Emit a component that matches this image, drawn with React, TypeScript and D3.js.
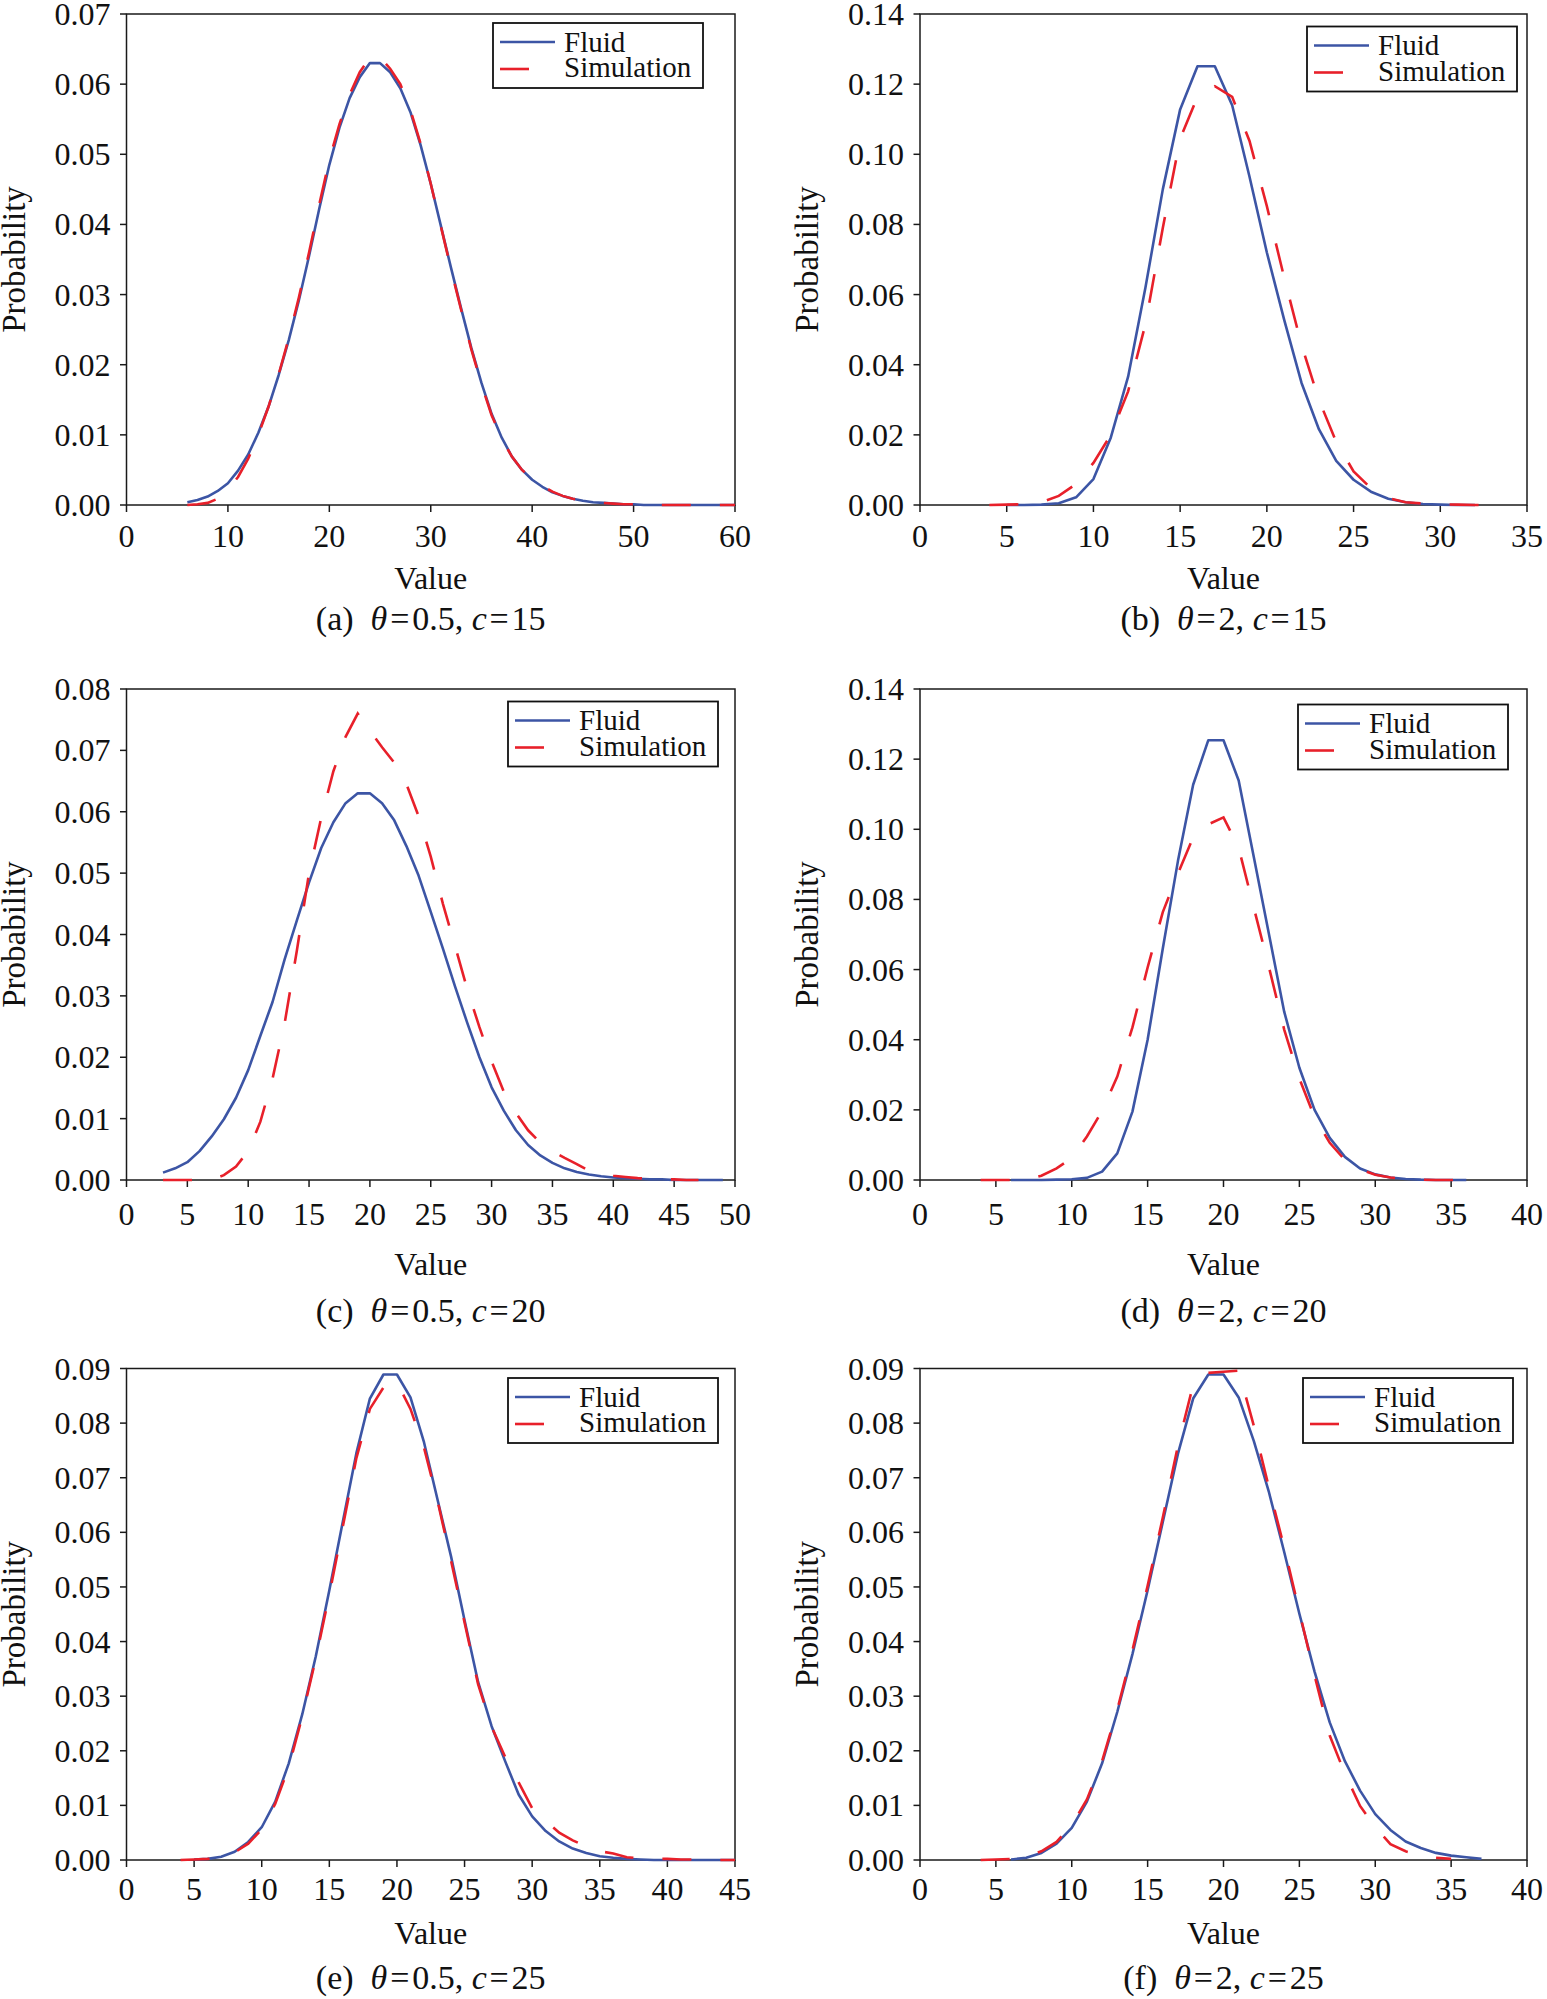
import React from 'react';
import * as d3 from 'd3';

// ---------- data (probability at integer values, starting at *Start) ----------
const aFluidStart = 6;
const aFluid = [0.0004, 0.0007, 0.0012, 0.0020, 0.0031, 0.0049, 0.0072, 0.0103, 0.0140, 0.0185, 0.0235, 0.0292, 0.0355, 0.0422, 0.0485, 0.0538, 0.0580, 0.0610, 0.0630, 0.0630, 0.0617, 0.0594, 0.0560, 0.0513, 0.0458, 0.0398, 0.0338, 0.0280, 0.0224, 0.0174, 0.0130, 0.0096, 0.0069, 0.0050, 0.0036, 0.0026, 0.0018, 0.0013, 0.0009, 0.0006, 0.0004, 0.0003, 0.0002, 0.0001, 0.0001, 0, 0, 0, 0, 0, 0, 0, 0, 0, 0];
const aSimStart = 6;
const aSim = [0, 0.0001, 0.0003, 0.0009, 0.0022, 0.0040, 0.0066, 0.0100, 0.0140, 0.0186, 0.0238, 0.0296, 0.0360, 0.0428, 0.0492, 0.0543, 0.0585, 0.0617, 0.0638, 0.0638, 0.0622, 0.0600, 0.0563, 0.0515, 0.0458, 0.0397, 0.0336, 0.0278, 0.0222, 0.0172, 0.0128, 0.0095, 0.0069, 0.0050, 0.0037, 0.0027, 0.0019, 0.0013, 0.0009, 0.0006, 0.0004, 0.0003, 0.0002, 0.0001, 0.0001, 0, 0, 0, 0, 0, 0, 0, 0, 0, 0];

const bFluidStart = 5;
const bFluid = [0, 0, 0.0001, 0.0005, 0.0022, 0.0074, 0.0192, 0.0366, 0.0620, 0.0900, 0.1128, 0.1251, 0.1251, 0.1140, 0.0936, 0.0720, 0.0528, 0.0348, 0.0216, 0.0126, 0.0072, 0.0038, 0.0018, 0.0008, 0.0003, 0.0001, 0, 0];
const bSimStart = 4;
const bSim = [0, 0.0001, 0.0002, 0.0008, 0.0026, 0.0060, 0.0120, 0.0200, 0.0324, 0.0516, 0.0790, 0.1044, 0.1164, 0.1194, 0.1164, 0.1038, 0.0852, 0.0648, 0.0456, 0.0300, 0.0180, 0.0096, 0.0048, 0.0020, 0.0008, 0.0004, 0.0002, 0.0001, 0, 0];

const cFluidStart = 3;
const cFluid = [0.0012, 0.0019, 0.0029, 0.0047, 0.0071, 0.0099, 0.0134, 0.0179, 0.0235, 0.0290, 0.0360, 0.0423, 0.0485, 0.0541, 0.0583, 0.0614, 0.0630, 0.0630, 0.0614, 0.0586, 0.0544, 0.0496, 0.0437, 0.0377, 0.0315, 0.0256, 0.0200, 0.0151, 0.0113, 0.0081, 0.0057, 0.0040, 0.0028, 0.0019, 0.0013, 0.0009, 0.0006, 0.0004, 0.0003, 0.0002, 0.0001, 0.0001, 0, 0, 0, 0, 0];
const cSimStart = 3;
const cSim = [0, 0, 0, 0, 0, 0.0008, 0.0022, 0.0047, 0.0095, 0.0165, 0.0256, 0.0374, 0.0500, 0.0590, 0.0666, 0.0722, 0.0760, 0.0732, 0.0705, 0.0680, 0.0645, 0.0593, 0.0527, 0.0450, 0.0381, 0.0311, 0.0249, 0.0193, 0.0144, 0.0109, 0.0081, 0.0061, 0.0047, 0.0036, 0.0026, 0.0015, 0.0010, 0.0007, 0.0005, 0.0003, 0.0002, 0.0001, 0.0001, 0, 0];

const dFluidStart = 6;
const dFluid = [0, 0, 0, 0.0001, 0.0002, 0.0006, 0.0024, 0.0076, 0.0195, 0.0400, 0.0660, 0.0910, 0.1127, 0.1254, 0.1254, 0.1139, 0.0920, 0.0700, 0.0480, 0.0320, 0.0200, 0.0120, 0.0066, 0.0033, 0.0016, 0.0007, 0.0003, 0.0001, 0, 0, 0];
const dSimStart = 4;
const dSim = [0, 0, 0, 0.0001, 0.0012, 0.0033, 0.0063, 0.0124, 0.0197, 0.0295, 0.0435, 0.0606, 0.0764, 0.0874, 0.0977, 0.1014, 0.1034, 0.0947, 0.0776, 0.0606, 0.0429, 0.0289, 0.0179, 0.0106, 0.0057, 0.0030, 0.0015, 0.0007, 0.0003, 0.0001, 0, 0, 0, 0];

const eFluidStart = 5;
const eFluid = [0.0001, 0.0002, 0.0006, 0.0015, 0.0033, 0.0060, 0.0107, 0.0177, 0.0267, 0.0373, 0.0494, 0.0620, 0.0745, 0.0845, 0.0889, 0.0889, 0.0847, 0.0765, 0.0660, 0.0556, 0.0439, 0.0326, 0.0245, 0.0181, 0.0120, 0.0080, 0.0053, 0.0034, 0.0021, 0.0013, 0.0007, 0.0004, 0.0002, 0.0001, 0, 0, 0, 0, 0, 0, 0];
const eSimStart = 4;
const eSim = [0, 0.0001, 0.0002, 0.0005, 0.0014, 0.0030, 0.0056, 0.0103, 0.0170, 0.0263, 0.0369, 0.0486, 0.0611, 0.0736, 0.0826, 0.0865, 0.0875, 0.0826, 0.0755, 0.0658, 0.0548, 0.0435, 0.0322, 0.0244, 0.0189, 0.0142, 0.0095, 0.0072, 0.0050, 0.0036, 0.0025, 0.0016, 0.0012, 0.0005, 0.0003, 0.0002, 0.0002, 0.0001, 0.0001, 0, 0, 0];

const fFluidStart = 6;
const fFluid = [0.0001, 0.0004, 0.0013, 0.0030, 0.0059, 0.0107, 0.0177, 0.0271, 0.0377, 0.0494, 0.0619, 0.0744, 0.0845, 0.0889, 0.0889, 0.0847, 0.0767, 0.0673, 0.0564, 0.0451, 0.0345, 0.0252, 0.0181, 0.0127, 0.0084, 0.0055, 0.0034, 0.0022, 0.0013, 0.0008, 0.0005, 0.0002];
const fSimStart = 4;
const fSim = [0, 0.0001, 0.0002, 0.0006, 0.0016, 0.0033, 0.0064, 0.0111, 0.0181, 0.0275, 0.0384, 0.0502, 0.0627, 0.0759, 0.0870, 0.0892, 0.0894, 0.0896, 0.0795, 0.0681, 0.0572, 0.0455, 0.0338, 0.0228, 0.0158, 0.0099, 0.0060, 0.0029, 0.0016, 0.0008, 0.0004, 0.0002];

// ---------- tick labels ----------
const aXTicks = [0, 10, 20, 30, 40, 50, 60];
const aYTicks = [0, 0.01, 0.02, 0.03, 0.04, 0.05, 0.06, 0.07];
const bXTicks = [0, 5, 10, 15, 20, 25, 30, 35];
const bYTicks = [0, 0.02, 0.04, 0.06, 0.08, 0.10, 0.12, 0.14];
const cXTicks = [0, 5, 10, 15, 20, 25, 30, 35, 40, 45, 50];
const cYTicks = [0, 0.01, 0.02, 0.03, 0.04, 0.05, 0.06, 0.07, 0.08];
const dXTicks = [0, 5, 10, 15, 20, 25, 30, 35, 40];
const dYTicks = [0, 0.02, 0.04, 0.06, 0.08, 0.10, 0.12, 0.14];
const eXTicks = [0, 5, 10, 15, 20, 25, 30, 35, 40, 45];
const eYTicks = [0, 0.01, 0.02, 0.03, 0.04, 0.05, 0.06, 0.07, 0.08, 0.09];
const fXTicks = [0, 5, 10, 15, 20, 25, 30, 35, 40];
const fYTicks = [0, 0.01, 0.02, 0.03, 0.04, 0.05, 0.06, 0.07, 0.08, 0.09];

const seriesNames = ['Fluid', 'Simulation'];
const panelLetters = ['a', 'b', 'c', 'd', 'e', 'f'];
const thetaValues = ['0.5', '2', '0.5', '2', '0.5', '2'];
const cValues = ['15', '15', '20', '20', '25', '25'];

// ---------- layout ----------
const W = 1547;
const H = 1999;
const colLeft = [126.5, 920];
const colRight = [735, 1527];
const rowTop = [14, 689, 1368.5];
const rowBottom = [505, 1180, 1860];
const xTickLabelOffset = [41.5, 45, 40];
const valueLabelOffset = [84, 95, 84];
const captionOffset = [125, 142, 129];
const legendPos: [number, number][] = [
  [493, 23], [1307, 26.5],
  [508, 701.5], [1298, 704.5],
  [508, 1378], [1303, 1378],
];
const LEG_W = 210;
const LEG_H = 65;

const BLUE = '#3c55a5';
const RED = '#e8202a';
const FONT = "'Liberation Serif', 'Times New Roman', Times, serif";

type PanelData = {
  fluidStart: number; fluid: number[];
  simStart: number; sim: number[];
  xTicks: number[]; yTicks: number[];
};

const panelData: PanelData[] = [
  { fluidStart: aFluidStart, fluid: aFluid, simStart: aSimStart, sim: aSim, xTicks: aXTicks, yTicks: aYTicks },
  { fluidStart: bFluidStart, fluid: bFluid, simStart: bSimStart, sim: bSim, xTicks: bXTicks, yTicks: bYTicks },
  { fluidStart: cFluidStart, fluid: cFluid, simStart: cSimStart, sim: cSim, xTicks: cXTicks, yTicks: cYTicks },
  { fluidStart: dFluidStart, fluid: dFluid, simStart: dSimStart, sim: dSim, xTicks: dXTicks, yTicks: dYTicks },
  { fluidStart: eFluidStart, fluid: eFluid, simStart: eSimStart, sim: eSim, xTicks: eXTicks, yTicks: eYTicks },
  { fluidStart: fFluidStart, fluid: fFluid, simStart: fSimStart, sim: fSim, xTicks: fXTicks, yTicks: fYTicks },
];

function Panel({ idx }: { idx: number }) {
  const p = panelData[idx];
  const col = idx % 2;
  const row = Math.floor(idx / 2);
  const x0 = colLeft[col], x1 = colRight[col];
  const y0 = rowTop[row], y1 = rowBottom[row];
  const xs = p.xTicks, ys = p.yTicks;
  const x = d3.scaleLinear().domain([xs[0], xs[xs.length - 1]]).range([x0, x1]);
  const y = d3.scaleLinear().domain([ys[0], ys[ys.length - 1]]).range([y1, y0]);
  const mk = (start: number) =>
    d3.line<number>().x((_, i) => x(start + i)).y((d) => y(d));
  const fluidPath = mk(p.fluidStart)(p.fluid) || '';
  const simPath = mk(p.simStart)(p.sim) || '';
  const cx = (x0 + x1) / 2;
  const cy = (y0 + y1) / 2;
  const [lx, ly] = legendPos[idx];
  const tickFont = 32;

  return (
    <g>
      {/* frame */}
      <rect x={x0} y={y0} width={x1 - x0} height={y1 - y0} fill="none" stroke="#1a1a1a" strokeWidth={1.5} />
      {/* y ticks */}
      {ys.map((t) => (
        <g key={'y' + t}>
          <line x1={x0 - 6.5} x2={x0} y1={y(t)} y2={y(t)} stroke="#1a1a1a" strokeWidth={1.5} />
          <text x={x0 - 16} y={y(t) + 11} textAnchor="end" fontSize={tickFont} fontFamily={FONT} fill="#111">
            {d3.format('.2f')(t)}
          </text>
        </g>
      ))}
      {/* x ticks */}
      {xs.map((t) => (
        <g key={'x' + t}>
          <line x1={x(t)} x2={x(t)} y1={y1} y2={y1 + 7} stroke="#1a1a1a" strokeWidth={1.5} />
          <text x={x(t)} y={y1 + xTickLabelOffset[row]} textAnchor="middle" fontSize={tickFont} fontFamily={FONT} fill="#111">
            {String(t)}
          </text>
        </g>
      ))}
      {/* curves */}
      <path d={fluidPath} fill="none" stroke={BLUE} strokeWidth={2.6} strokeLinejoin="round" />
      <path d={simPath} fill="none" stroke={RED} strokeWidth={2.6} strokeDasharray="29,29" />
      {/* legend */}
      <rect x={lx} y={ly} width={LEG_W} height={LEG_H} fill="#fff" stroke="#111" strokeWidth={1.8} />
      <line x1={lx + 7} x2={lx + 62} y1={ly + 19} y2={ly + 19} stroke={BLUE} strokeWidth={2.6} />
      <line x1={lx + 7} x2={lx + 62} y1={ly + 46} y2={ly + 46} stroke={RED} strokeWidth={2.6} strokeDasharray="29,29" />
      <text x={lx + 71} y={ly + 28.7} fontSize={29} fontFamily={FONT} fill="#111">{seriesNames[0]}</text>
      <text x={lx + 71} y={ly + 54.3} fontSize={29} fontFamily={FONT} fill="#111">{seriesNames[1]}</text>
      {/* axis titles */}
      <text x={cx} y={y1 + valueLabelOffset[row]} textAnchor="middle" fontSize={32} fontFamily={FONT} fill="#111">Value</text>
      <text transform={`translate(${x0 - 102},${cy}) rotate(-90)`} textAnchor="middle" fontSize={33} fontFamily={FONT} fill="#111">Probability</text>
      {/* caption */}
      <text x={cx} y={y1 + captionOffset[row]} textAnchor="middle" fontSize={34} fontFamily={FONT} fill="#111">
        {`(${panelLetters[idx]})\u2002`}
        <tspan fontStyle="italic">θ</tspan>
        {`\u200A=\u200A${thetaValues[idx]}, `}
        <tspan fontStyle="italic">c</tspan>
        {`\u200A=\u200A${cValues[idx]}`}
      </text>
    </g>
  );
}

export default function App() {
  return (
    <svg
      width={W}
      height={H}
      viewBox={`0 0 ${W} ${H}`}
      style={{ position: 'absolute', left: 0, top: 0, background: '#fff' }}
    >
      <rect x={0} y={0} width={W} height={H} fill="#fff" />
      {panelLetters.map((_, i) => (
        <Panel key={i} idx={i} />
      ))}
    </svg>
  );
}
